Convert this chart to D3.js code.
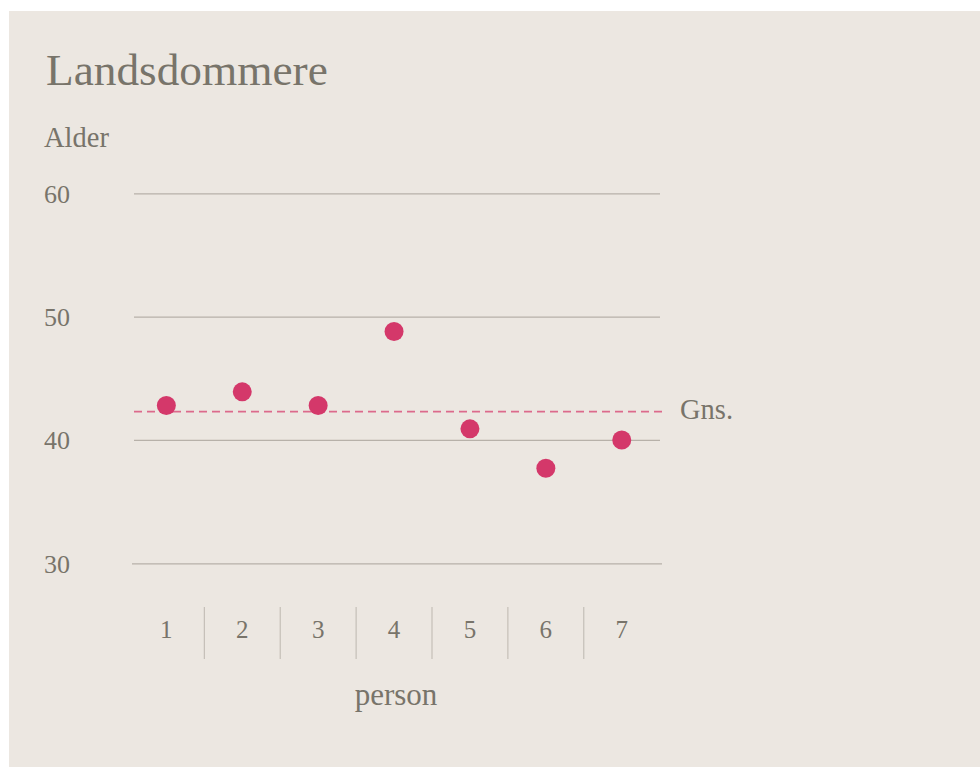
<!DOCTYPE html>
<html>
<head>
<meta charset="utf-8">
<script src="https://cdn.jsdelivr.net/npm/d3@7"></script>
<style>
  html, body { margin: 0; padding: 0; background: #ffffff; }
  svg { display: block; }
  text { font-family: "Liberation Serif", "DejaVu Serif", serif; fill: #78746a; }
</style>
</head>
<body>
<svg id="chart" width="980" height="767"></svg>
<script>
// ---- data ----
const persons = ["1", "2", "3", "4", "5", "6", "7"];
const ages = [42.8, 43.9, 42.8, 48.8, 40.9, 37.7, 40.0];
const avgAge = 42.3;
const yTickValues = [30, 40, 50, 60];
const titleText = "Landsdommere";
const yAxisTitle = "Alder";
const xAxisTitle = "person";
const avgLabel = "Gns.";

const svg = d3.select("#chart");

// panel background
svg.append("rect")
  .attr("x", 9).attr("y", 11)
  .attr("width", 971).attr("height", 756)
  .attr("fill", "#ece7e1");

// scales
const y = d3.scaleLinear().domain([30, 60]).range([563.3, 193.3]);
const x = d3.scaleBand().domain(persons).range([128.4, 659.7]).padding(0);

// title
svg.append("text")
  .attr("x", 46).attr("y", 85)
  .attr("font-size", 45.3)
  .text(titleText);

svg.append("text")
  .attr("x", 44).attr("y", 147)
  .attr("font-size", 28.5)
  .text(yAxisTitle);

// y axis (gridlines + labels)
const gridLeft = 134, gridRight = 660;
const yAxis = d3.axisLeft(y)
  .tickValues(yTickValues)
  .tickSize(-(gridRight - gridLeft))
  .tickPadding(0)
  .tickFormat(d3.format("d"));

const yg = svg.append("g")
  .attr("transform", `translate(${gridLeft},0)`)
  .call(yAxis);
yg.select(".domain").remove();
yg.selectAll(".tick line")
  .attr("stroke", "#b7b1a9")
  .attr("stroke-width", 1.2)
  .attr("x1", d => d === 30 ? -2 : 0)
  .attr("x2", d => d === 30 ? (gridRight - gridLeft) + 2 : (gridRight - gridLeft));
yg.selectAll(".tick text")
  .attr("x", 44 - gridLeft)
  .attr("dy", 9)
  .attr("text-anchor", "start")
  .attr("font-size", 26)
  .attr("font-family", "Liberation Serif, serif")
  .attr("fill", "#78746a");

// x axis
const xAxis = d3.axisBottom(x).tickSize(0).tickPadding(0);
const xg = svg.append("g")
  .attr("transform", "translate(0,638)")
  .call(xAxis);
xg.select(".domain").remove();
xg.selectAll(".tick text")
  .attr("y", 0)
  .attr("dy", 0)
  .attr("font-size", 25)
  .attr("font-family", "Liberation Serif, serif")
  .attr("fill", "#78746a");

// band separators
svg.append("g")
  .selectAll("line")
  .data(persons.slice(1))
  .join("line")
  .attr("x1", d => x(d)).attr("x2", d => x(d))
  .attr("y1", 607).attr("y2", 659)
  .attr("stroke", "#bdb7af")
  .attr("stroke-width", 1);

svg.append("text")
  .attr("x", (x.range()[0] + x.range()[1]) / 2 + 2)
  .attr("y", 705)
  .attr("text-anchor", "middle")
  .attr("font-size", 31)
  .text(xAxisTitle);

// average line
svg.append("line")
  .attr("x1", 134).attr("x2", 663)
  .attr("y1", y(avgAge)).attr("y2", y(avgAge))
  .attr("stroke", "#dc6a8c")
  .attr("stroke-width", 1.6)
  .attr("stroke-dasharray", "8,5");

svg.append("text")
  .attr("x", 680).attr("y", y(avgAge) + 7)
  .attr("font-size", 28.5)
  .text(avgLabel);

// points
svg.append("g")
  .selectAll("circle")
  .data(ages)
  .join("circle")
  .attr("cx", (d, i) => x(persons[i]) + x.bandwidth() / 2)
  .attr("cy", d => y(d))
  .attr("r", 9.5)
  .attr("fill", "#d4386a");
</script>
</body>
</html>
